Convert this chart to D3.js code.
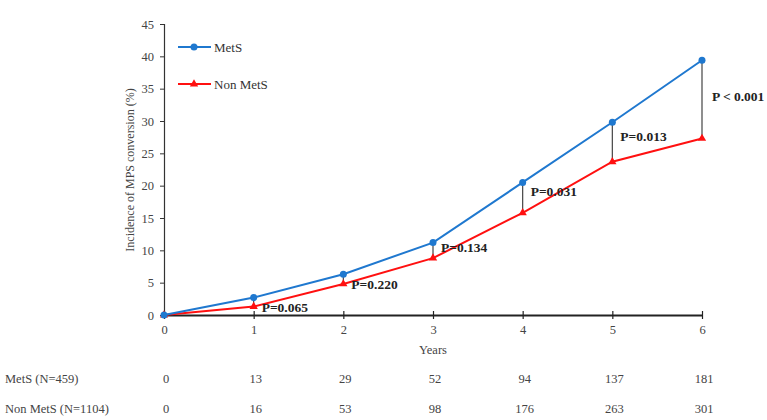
<!DOCTYPE html>
<html><head><meta charset="utf-8">
<script src="https://cdn.jsdelivr.net/npm/d3@7"></script>
<style>body{margin:0;background:#fff}svg{display:block}</style>
</head><body><svg id="c" width="767" height="420"></svg>
<script>
const years = [0,1,2,3,4,5,6];
const metsValues = [0,2.7,6.3,11.2,20.5,29.8,39.4];
const nonMetsValues = [0,1.3,4.8,8.8,15.8,23.7,27.3];
const pLabels = ["", "P=0.065","P=0.220","P=0.134","P=0.031","P=0.013","P < 0.001"];
const pLabelAt = [0,1.2,4.8,10.5,19.1,27.7,33.9];
const yTicks = [0,5,10,15,20,25,30,35,40,45];
const metsAtRisk = [0,13,29,52,94,137,181];
const nonMetsAtRisk = [0,16,53,98,176,263,301];
const rowLabels = ["MetS (N=459)","Non MetS (N=1104)"];

const svg = d3.select("#c");
const font = "'Liberation Serif','Times New Roman',serif";
const x = d3.scaleLinear().domain([0,6]).range([164,702]);
const y = d3.scaleLinear().domain([0,45]).range([315,24]);
const blue = "#1f78cf", red = "#ff1010";

// y axis
const ya = svg.append("g").attr("transform","translate(164,0)")
  .call(d3.axisLeft(y).tickValues(yTicks).tickFormat(d3.format("d")).tickSize(4).tickPadding(6));
ya.select(".domain").attr("stroke","#333").attr("stroke-width",1.2);
ya.selectAll(".tick line").attr("stroke","#333");
ya.selectAll("text").attr("font-family",font).attr("font-size",12.5).attr("fill","#444");

// x axis
const xa = svg.append("g").attr("transform","translate(0,315)")
  .call(d3.axisBottom(x).tickValues(years).tickFormat(d3.format("d")).tickSize(4).tickPadding(6).tickSizeOuter(0));
xa.select(".domain").attr("stroke","#222").attr("stroke-width",2);
xa.selectAll(".tick line").attr("stroke","#222").attr("y1",-4).attr("stroke-width",1.2);
xa.selectAll("text").attr("font-family",font).attr("font-size",12.5).attr("fill","#444");

svg.append("text").attr("x",433).attr("y",354).attr("text-anchor","middle")
  .attr("font-family",font).attr("font-size",12.5).attr("fill","#444").text("Years");
svg.append("text").attr("transform","translate(134,170) rotate(-90)").attr("text-anchor","middle")
  .attr("font-family",font).attr("font-size",12).attr("fill","#444").text("Incidence of MPS conversion (%)");

// connectors
svg.append("g").selectAll("line").data(years.slice(1)).join("line")
  .attr("x1",d=>x(d)).attr("x2",d=>x(d))
  .attr("y1",d=>y(metsValues[d])).attr("y2",d=>y(nonMetsValues[d]))
  .attr("stroke","#444").attr("stroke-width",1.2);

const line = d3.line().x((d,i)=>x(years[i])).y(d=>y(d));
svg.append("path").datum(nonMetsValues).attr("d",line).attr("fill","none").attr("stroke",red).attr("stroke-width",2);
svg.append("path").datum(metsValues).attr("d",line).attr("fill","none").attr("stroke",blue).attr("stroke-width",2);

const tri = d3.symbol().type(d3.symbolTriangle).size(30);
svg.append("g").selectAll("path").data(nonMetsValues).join("path")
  .attr("d",tri).attr("transform",(d,i)=>`translate(${x(years[i])},${y(d)})`).attr("fill",red);
svg.append("g").selectAll("circle").data(metsValues).join("circle")
  .attr("cx",(d,i)=>x(years[i])).attr("cy",d=>y(d)).attr("r",3.5).attr("fill",blue);

// p labels
svg.append("g").selectAll("text").data(years.slice(1)).join("text")
  .attr("x",d=>x(d)+(d===6?10:8)).attr("y",d=>y(pLabelAt[d])).attr("dy","0.35em")
  .attr("font-family",font).attr("font-size",13.5).attr("font-weight","bold").attr("fill","#222")
  .text(d=>pLabels[d]);

// legend
const leg = [{t:"MetS",c:blue,s:"c",yy:47},{t:"Non MetS",c:red,s:"t",yy:84}];
leg.forEach(l=>{
  svg.append("line").attr("x1",178).attr("x2",211).attr("y1",l.yy).attr("y2",l.yy).attr("stroke",l.c).attr("stroke-width",2);
  if(l.s==="c") svg.append("circle").attr("cx",194).attr("cy",l.yy).attr("r",3.5).attr("fill",l.c);
  else svg.append("path").attr("d",tri).attr("transform",`translate(194,${l.yy})`).attr("fill",l.c);
  svg.append("text").attr("x",214).attr("y",l.yy).attr("dy","0.35em").attr("font-family",font)
    .attr("font-size",13).attr("fill","#333").text(l.t);
});

// at-risk table
const rows = [metsAtRisk, nonMetsAtRisk];
const rowY = [379,409];
rows.forEach((r,ri)=>{
  svg.append("text").attr("x",5).attr("y",rowY[ri]).attr("dy","0.35em").attr("font-family",font)
    .attr("font-size",12.5).attr("fill","#444").text(rowLabels[ri]);
  svg.append("g").selectAll("text").data(r).join("text")
    .attr("x",(d,i)=>x(years[i])+2).attr("y",rowY[ri]).attr("dy","0.35em").attr("text-anchor","middle")
    .attr("font-family",font).attr("font-size",12.5).attr("fill","#444").text(d=>d);
});
</script></body></html>
